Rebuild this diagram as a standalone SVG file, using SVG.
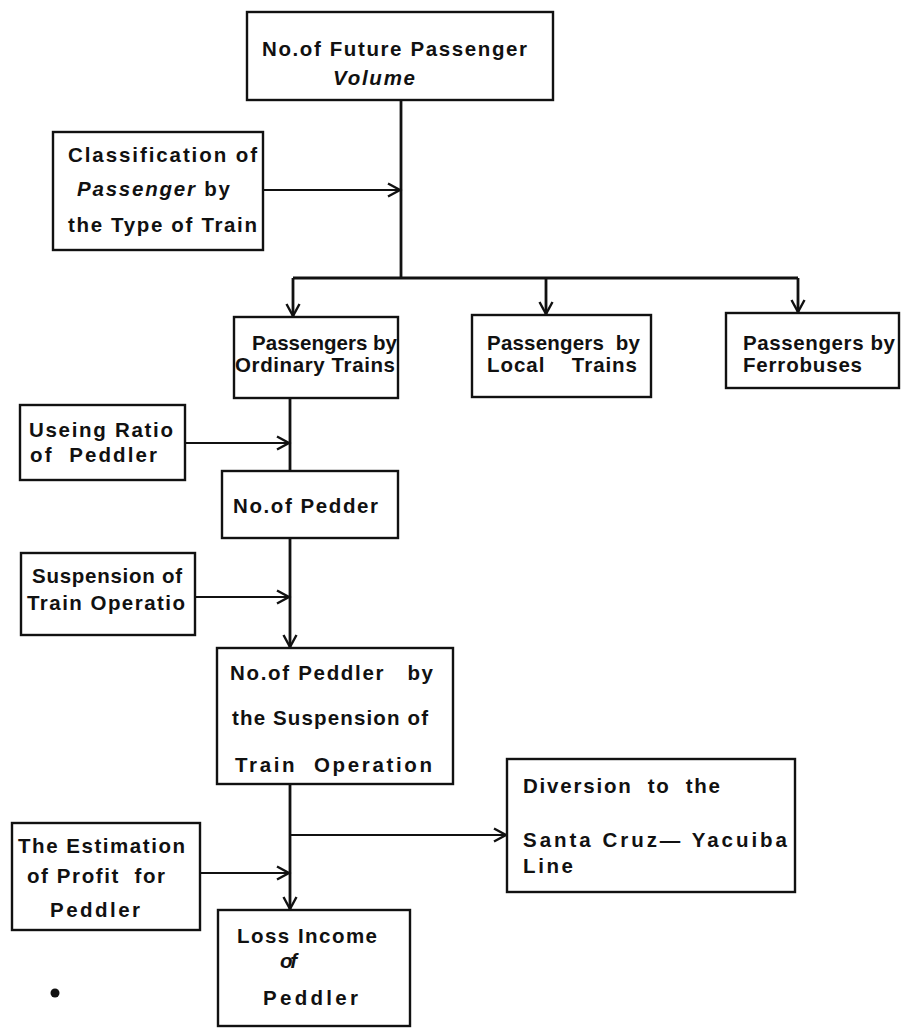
<svg xmlns="http://www.w3.org/2000/svg" width="905" height="1028" viewBox="0 0 905 1028">
  <style>
    .box { fill: #fff; stroke: #111; stroke-width: 2.4; }
    .lbl { font-family: "Liberation Sans", Arial, sans-serif; font-weight: bold; font-size: 20.5px; fill: #111; white-space: pre; }
    .it { font-style: italic; }
    .trunk { fill: none; stroke: #111; stroke-width: 2.8; }
    .feed { fill: none; stroke: #111; stroke-width: 2; }
  </style>
  <defs>
    <marker id="chev" markerUnits="userSpaceOnUse" markerWidth="16" markerHeight="16" viewBox="-13 -8 16 16" refX="0" refY="0" orient="auto">
      <polyline points="-12,-6.5 0,0 -12,6.5" fill="none" stroke="#111" stroke-width="2.4"/>
    </marker>
  </defs>
  <rect width="905" height="1028" fill="#fff"/>

  <!-- connectors -->
  <g id="connectors">
    <path class="trunk" d="M401,100 V278"/>
    <path class="feed" d="M263,190 H400" marker-end="url(#chev)"/>
    <path class="trunk" d="M293,278 H798"/>
    <path class="trunk" d="M293,278 V316" marker-end="url(#chev)"/>
    <path class="trunk" d="M546,278 V314" marker-end="url(#chev)"/>
    <path class="trunk" d="M798,278 V312" marker-end="url(#chev)"/>
    <path class="trunk" d="M290,398 V471"/>
    <path class="feed" d="M185,443 H289" marker-end="url(#chev)"/>
    <path class="trunk" d="M290,538 V647" marker-end="url(#chev)"/>
    <path class="feed" d="M195,597 H289" marker-end="url(#chev)"/>
    <path class="trunk" d="M290,784 V909" marker-end="url(#chev)"/>
    <path class="feed" d="M290,835 H506" marker-end="url(#chev)"/>
    <path class="feed" d="M200,873 H289" marker-end="url(#chev)"/>
  </g>

  <g id="future-volume">
    <rect class="box" x="247" y="12" width="306" height="88"/>
    <text class="lbl" x="262" y="56" textLength="265" lengthAdjust="spacing">No.of Future Passenger</text>
    <text class="lbl it" x="333" y="85" textLength="82" lengthAdjust="spacing">Volume</text>
  </g>

  <g id="classification">
    <rect class="box" x="53" y="132" width="210" height="118"/>
    <text class="lbl" x="68" y="162" textLength="189" lengthAdjust="spacing">Classification of</text>
    <text class="lbl" x="77" y="196" textLength="153" lengthAdjust="spacing"><tspan class="it">Passenger</tspan> by</text>
    <text class="lbl" x="68" y="232" textLength="189" lengthAdjust="spacing">the Type of Train</text>
  </g>

  <g id="ordinary">
    <rect class="box" x="234" y="317" width="164" height="81"/>
    <text class="lbl" x="252" y="350" textLength="145" lengthAdjust="spacing">Passengers by</text>
    <text class="lbl" x="235" y="372" textLength="160" lengthAdjust="spacing">Ordinary Trains</text>
  </g>

  <g id="local">
    <rect class="box" x="472" y="315" width="179" height="82"/>
    <text class="lbl" x="487" y="350" textLength="153" lengthAdjust="spacing">Passengers  by</text>
    <text class="lbl" x="487" y="372" textLength="150" lengthAdjust="spacing">Local    Trains</text>
  </g>

  <g id="ferrobus">
    <rect class="box" x="726" y="313" width="173" height="75"/>
    <text class="lbl" x="743" y="350" textLength="152" lengthAdjust="spacing">Passengers by</text>
    <text class="lbl" x="743" y="372" textLength="119" lengthAdjust="spacing">Ferrobuses</text>
  </g>

  <g id="peddler-ratio">
    <rect class="box" x="20" y="405" width="165" height="75"/>
    <text class="lbl" x="29" y="437" textLength="144" lengthAdjust="spacing">Useing Ratio</text>
    <text class="lbl" x="30" y="462" textLength="127" lengthAdjust="spacing">of  Peddler</text>
  </g>

  <g id="peddler-count">
    <rect class="box" x="222" y="471" width="176" height="67"/>
    <text class="lbl" x="233" y="513" textLength="145" lengthAdjust="spacing">No.of Pedder</text>
  </g>

  <g id="suspension">
    <rect class="box" x="21" y="553" width="174" height="82"/>
    <text class="lbl" x="32" y="583" textLength="150" lengthAdjust="spacing">Suspension of</text>
    <text class="lbl" x="27" y="610" textLength="158" lengthAdjust="spacing">Train Operatio</text>
  </g>

  <g id="peddler-suspension">
    <rect class="box" x="217" y="648" width="236" height="136"/>
    <text class="lbl" x="230" y="680" textLength="203" lengthAdjust="spacing">No.of Peddler   by</text>
    <text class="lbl" x="232" y="725" textLength="196" lengthAdjust="spacing">the Suspension of</text>
    <text class="lbl" x="235" y="772" textLength="197" lengthAdjust="spacing">Train  Operation</text>
  </g>

  <g id="diversion">
    <rect class="box" x="507" y="759" width="288" height="133"/>
    <text class="lbl" x="523" y="793" textLength="197" lengthAdjust="spacing">Diversion  to  the</text>
    <text class="lbl" x="523" y="847" textLength="264" lengthAdjust="spacing">Santa Cruz— Yacuiba</text>
    <text class="lbl" x="523" y="873" textLength="50" lengthAdjust="spacing">Line</text>
  </g>

  <g id="profit-estimate">
    <rect class="box" x="12" y="823" width="188" height="107"/>
    <text class="lbl" x="18" y="853" textLength="167" lengthAdjust="spacing">The Estimation</text>
    <text class="lbl" x="27" y="883" textLength="138" lengthAdjust="spacing">of Profit  for</text>
    <text class="lbl" x="50" y="917" textLength="90" lengthAdjust="spacing">Peddler</text>
  </g>

  <g id="loss-income">
    <rect class="box" x="218" y="910" width="192" height="116"/>
    <text class="lbl" x="237" y="943" textLength="140" lengthAdjust="spacing">Loss Income</text>
    <text class="lbl it" x="280" y="968" textLength="17" lengthAdjust="spacing">of</text>
    <text class="lbl" x="263" y="1005" textLength="95" lengthAdjust="spacing">Peddler</text>
  </g>

  <circle cx="55" cy="993" r="4.5" fill="#111"/>
</svg>
